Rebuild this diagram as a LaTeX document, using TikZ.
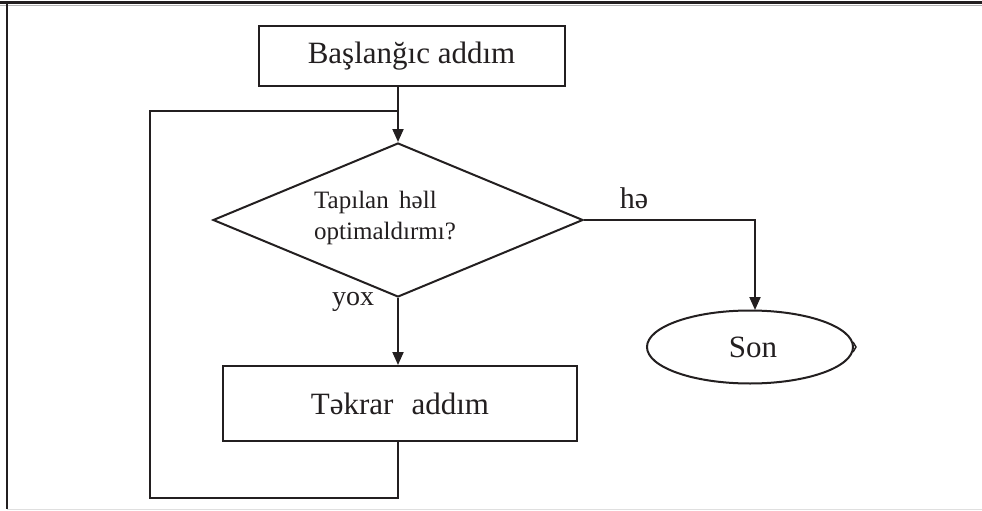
\documentclass[tikz,border=0pt]{standalone}
\usepackage{fontspec}
\setmainfont{Liberation Serif}
\usetikzlibrary{shapes.geometric,arrows.meta}
\definecolor{ink}{HTML}{231F20}
\tikzset{
  every node/.style={text=ink},
  line/.style={draw=ink,line width=2pt},
  arr/.style={line,-{Triangle[length=13pt,width=11pt]}},
  boxnode/.style={draw=ink,line width=2pt,rectangle,inner sep=0pt,font=\fontsize{31}{35}\selectfont},
  lbl/.style={inner sep=0pt,font=\fontsize{28}{31}\selectfont}
}
\begin{document}
\begin{tikzpicture}[x=1pt,y=-1pt]
\useasboundingbox (0,0) rectangle (982,511);
\fill[white] (0,0) rectangle (982,511);
% frame
\draw[ink,line width=3pt] (0,2.5) -- (982,2.5);
\draw[gray!60,line width=1pt] (0,5.5) -- (982,5.5);
\draw[ink,line width=2pt] (7,3) -- (7,509);
\draw[gray!25,line width=1pt] (7,509.5) -- (982,509.5);
% nodes
\node[boxnode,minimum width=306pt,minimum height=60pt] (start) at (411.5,56) {Başlanğıc addım};
\node[draw=ink,line width=2pt,diamond,inner sep=0pt,minimum width=370pt,minimum height=154pt] (dec) at (398,220) {};
\node[align=left,inner sep=0pt,font=\fontsize{25}{31}\selectfont] (dectext) at (385,218) {Tapılan\, həll\\optimaldırmı?};
\node[boxnode,minimum width=354pt,minimum height=75pt] (rep) at (400,403.5) {Təkrar\,\, addım};
\node[draw=ink,line width=2pt,ellipse,inner sep=0pt,minimum width=206pt,minimum height=73pt,font=\fontsize{31}{35}\selectfont] (son) at (750,347) {\hspace*{6pt}Son};
\node[lbl,font=\fontsize{30}{33}\selectfont] (he) at (634,198) {hə};
\node[lbl] (yox) at (353,302) {yox};
\coordinate (lb) at (150,498);
\coordinate (lt) at (150,111);
\coordinate (sontop) at (755,310);
% connectors
\draw[arr] (dec.north |- start.south) -- (dec.north);
\draw[arr] (dec.south) -- (dec.south |- rep.north);
\draw[arr] (dec.east) -- (sontop |- dec.east) -- (sontop);
\draw[line] (dec.south |- rep.south) -- (dec.south |- lb) -- (lb) -- (lt) -- (dec.north |- lt);
\draw[ink,line width=1.5pt] (son.east) ++(-1,-5) -- ++(3,5) -- ++(-3,5);
\end{tikzpicture}
\end{document}
